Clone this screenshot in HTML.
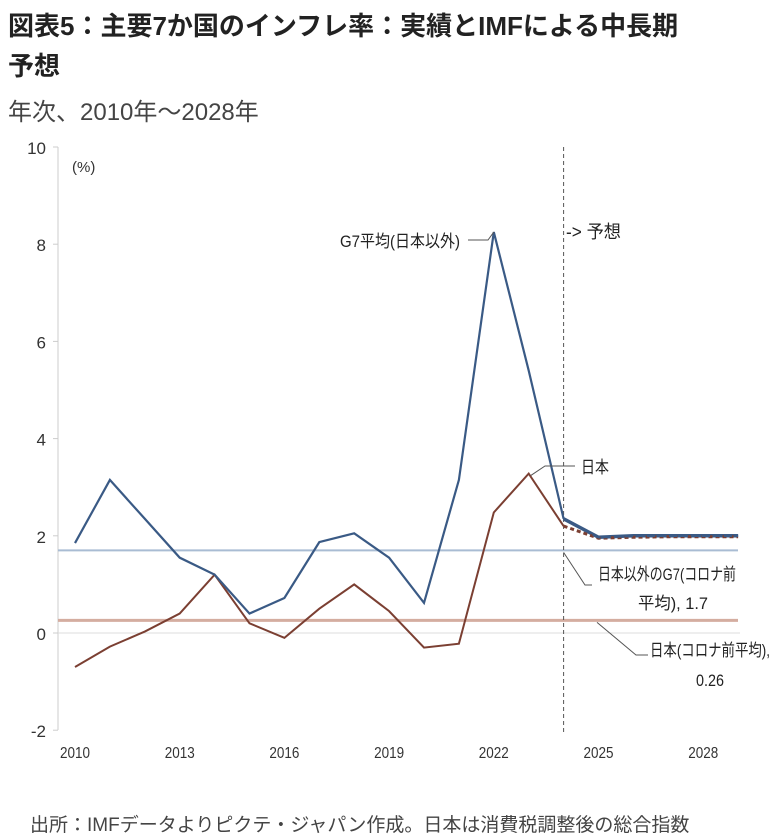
<!DOCTYPE html>
<html><head><meta charset="utf-8"><style>
body{margin:0;background:#fff;width:775px;height:840px;overflow:hidden;font-family:"Liberation Sans","Noto Sans CJK JP",sans-serif;}
.t{position:absolute;left:8px;color:#222;}
</style></head><body>
<div class="t" style="top:6px;font-size:26px;font-weight:bold;line-height:40px;width:760px">図表5：主要7か国のインフレ率：実績とIMFによる中長期<br>予想</div>
<div class="t" style="top:92px;font-size:24px;color:#444">年次、2010年～2028年</div>
<svg id="c" width="775" height="840" style="position:absolute;left:0;top:0"></svg>
<div class="t" style="top:810px;left:30px;font-size:19px;color:#444">出所：IMFデータよりピクテ・ジャパン作成。日本は消費税調整後の総合指数</div>
<script>
const years=[2010,2011,2012,2013,2014,2015,2016,2017,2018,2019,2020,2021,2022,2023,2024,2025,2026,2027,2028,2029];
const g7=[1.85,3.15,2.35,1.55,1.2,0.4,0.72,1.87,2.05,1.55,0.62,3.15,8.25,5.4,2.35,1.97,2.0,2.0,2.0,2.0];
const japan=[-0.7,-0.28,0.03,0.4,1.2,0.2,-0.1,0.5,1.0,0.45,-0.3,-0.22,2.48,3.28,2.2,1.95,1.97,1.98,1.98,1.98];
const yTicks=[10,8,6,4,2,0,-2];
const xTicks=[2010,2013,2016,2019,2022,2025,2028];
const g7Avg=1.7, jpAvg=0.26, forecastYear=2024;
const X=y=>75+(y-2010)*34.9, Y=v=>633-v*48.6;
const s=document.getElementById('c'),NS='http://www.w3.org/2000/svg';
function mk(t,a,txt){const e=document.createElementNS(NS,t);for(const k in a)e.setAttribute(k,a[k]);if(txt!=null)e.textContent=txt;s.appendChild(e);return e;}
let e;
e=mk('line',{x1:58,y1:147,x2:58,y2:730,stroke:'#ccc'});


e=mk('line',{x1:58,y1:Y(0),x2:740,y2:Y(0),stroke:'#ddd'});


yTicks.forEach(v=>{mk('line',{x1:53,y1:Y(v),x2:58,y2:Y(v),stroke:'#ccc'});
e=mk('text',{x:46,y:Y(v)+7,'text-anchor':'end','font-size':17,fill:'#333'},v);

});
xTicks.forEach(v=>{e=mk('text',{x:X(v),y:758,'text-anchor':'middle','font-size':16,fill:'#333',textLength:30,lengthAdjust:'spacingAndGlyphs'},v);

});
e=mk('text',{x:72,y:172,'font-size':15,fill:'#333'},'(%)');


e=mk('line',{x1:58,y1:Y(g7Avg),x2:738,y2:Y(g7Avg),stroke:'#a9bcd3','stroke-width':2});


e=mk('line',{x1:58,y1:Y(jpAvg),x2:738,y2:Y(jpAvg),stroke:'#d4ada0','stroke-width':3});


e=mk('line',{x1:X(forecastYear),y1:147,x2:X(forecastYear),y2:735,stroke:'#555','stroke-dasharray':'4,3'});


const fi=years.indexOf(forecastYear);
const pts=(d,a,b)=>d.slice(a,b).map((v,i)=>X(years[a+i])+','+Y(v)).join(' ');
e=mk('polyline',{points:pts(japan,0,fi+1),fill:'none',stroke:'#7b3f32','stroke-width':2});


e=mk('polyline',{points:pts(g7,0,fi+1),fill:'none',stroke:'#3a5a85','stroke-width':2.2});


e=mk('polyline',{points:pts(g7,fi,years.length),fill:'none',stroke:'#3a5a85','stroke-width':3.5});


e=mk('polyline',{points:pts(japan,fi,years.length),fill:'none',stroke:'#7b3f32','stroke-width':3,'stroke-dasharray':'4,3'});


e=mk('polyline',{points:pts(g7,fi,years.length),fill:'none',stroke:'#3a5a85','stroke-width':2.5,'stroke-dasharray':'8,3'});


const lbl=(x,y,t,n,w,fs)=>{e=mk('text',{x:x,y:y,'font-size':fs||17,fill:'#222',textLength:w,lengthAdjust:'spacingAndGlyphs'},t);};
mk('polyline',{points:`468,240 488,240 ${X(2022)},${Y(g7[12])}`,fill:'none',stroke:'#555'});
lbl(340,247,'G7平均(日本以外)','g7-label',120);
mk('polyline',{points:`${X(2023)+2},${Y(japan[13])+2} 545,466 575,466`,fill:'none',stroke:'#555'});
lbl(581,473,'日本','japan-label',28);
lbl(566,238,'-> 予想','forecast-label',55,18);
mk('polyline',{points:`${X(2024)},${Y(g7Avg)+2} 585,585 592,585`,fill:'none',stroke:'#555'});
lbl(598,580,'日本以外のG7(コロナ前','g7-avg-label',138);
lbl(638,609,'平均), 1.7','g7-avg-label-2',70);
mk('polyline',{points:`597,${Y(jpAvg)+2} 636,655 648,655`,fill:'none',stroke:'#555'});
lbl(650,656,'日本(コロナ前平均),','japan-avg-label',120);
lbl(696,686,'0.26','japan-avg-label-2',28);
</script>
</body></html>
